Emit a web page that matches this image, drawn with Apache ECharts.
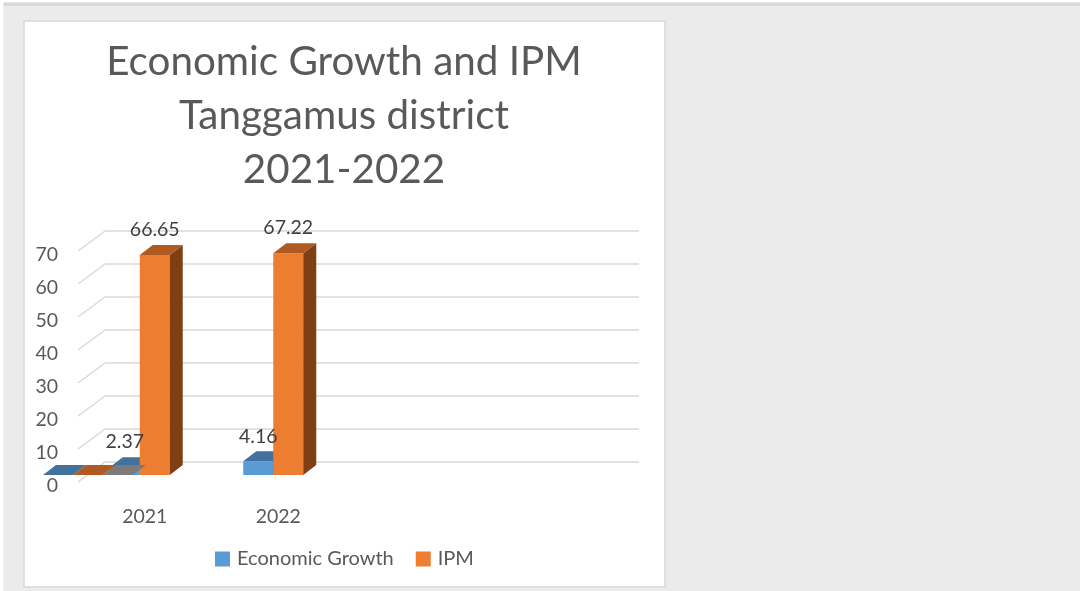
<!DOCTYPE html>
<html>
<head>
<meta charset="utf-8">
<style>html,body{margin:0;padding:0;background:#fff}#chart{width:1080px;height:591px}</style>
<script src="https://cdn.jsdelivr.net/npm/echarts@6/dist/echarts.min.js"></script>
</head>
<body>
<div id="chart"></div>
<script>
// Chart values
const categories = ['2021', '2022', '', ''];
const economicGrowth = [2.37, 4.16];
const ipm = [66.65, 67.22];
// Zero-height entries that sit in a leading slot before 2021
const leadingGrowth = [0];
const leadingIpm = [0];
const leadingThird = [0];
const valueTicks = [0, 10, 20, 30, 40, 50, 60, 70];

const FONT = 'Lato, "Open Sans", sans-serif';
const BAR_W = 30, DEPTH_X = 13, DEPTH_Y = 10;
const BLUE = { front: '#5b9bd5', top: '#41719c', side: '#2f5d87' };
const ORANGE = { front: '#ed7d31', top: '#ae5a21', side: '#7f3f13' };
const GRAY = { front: '#a5a5a5', top: '#7b7b7b', side: '#636363' };

const poly = (points, fill) => ({ type: 'polygon', shape: { points }, style: { fill }, silent: true });

// One extruded box: x is the left edge of the front face, top and base are pixel rows
function box(x, top, base, colors) {
  const r = x + BAR_W, d = DEPTH_X, h = DEPTH_Y;
  const parts = [];
  if (base - top > 0.01) {
    parts.push(poly([[x, top], [r, top], [r, base], [x, base]], colors.front));
    parts.push(poly([[r, top], [r + d, top - h], [r + d, base - h], [r, base]], colors.side));
  }
  parts.push(poly([[x, top], [r, top], [r + d, top - h], [x + d, top - h]], colors.top));
  return parts;
}

// Regular bars: slot -1 sits left of the category centre, slot 0 right of it
function barRenderer(slot, colors) {
  return (params, api) => {
    const c = api.coord([api.value(0), api.value(1)]);
    const base = api.coord([api.value(0), 0])[1];
    return { type: 'group', children: box(c[0] + slot * BAR_W, c[1], base, colors) };
  };
}

// Value captions float above the bars and stay readable where they overlap a neighbour
function labelRenderer(slot) {
  return (params, api) => {
    const c = api.coord([api.value(0), api.value(1)]);
    return {
      type: 'text',
      silent: true,
      style: {
        x: c[0] + slot * BAR_W + BAR_W / 2, y: c[1] - 25, text: api.value(1).toFixed(2),
        fill: '#404040', font: '19.5px ' + FONT, align: 'center', verticalAlign: 'middle'
      }
    };
  };
}

// Zero-value slabs are placed relative to the left boundary of the first band
function slabRenderer(slot, colors) {
  return (params, api) => {
    const c = api.coord([0, api.value(1)]);
    const band = api.size([1, 0])[0];
    const x = c[0] - band / 2 + slot * BAR_W;
    return { type: 'group', children: box(x, c[1], c[1], colors) };
  };
}

// Short diagonal lines linking the back wall to the front edge of the side wall
function wallRenderer(params, api) {
  const left = params.coordSys.x;
  const y = api.coord([0, api.value(0)])[1];
  return {
    type: 'line',
    shape: { x1: left, y1: y, x2: left - 27, y2: y + 20 },
    style: { stroke: '#d9d9d9', lineWidth: 1.5 },
    silent: true
  };
}

const customBase = { type: 'custom', xAxisIndex: 2, yAxisIndex: 2, clip: false, silent: true };
const pairs = values => values.map((v, i) => [i, v]);

const option = {
  animation: false,
  backgroundColor: '#ebebeb',
  graphic: [
    { type: 'rect', shape: { x: 0, y: 0, width: 1080, height: 2.5 }, style: { fill: '#ffffff' }, z: -10 },
    { type: 'rect', shape: { x: 0, y: 0, width: 3.5, height: 591 }, style: { fill: '#ffffff' }, z: -10 },
    { type: 'rect', shape: { x: 3.5, y: 2.5, width: 1076.5, height: 3.5 }, style: { fill: '#d9d9d9' }, z: -10 },
    { type: 'rect', shape: { x: 24, y: 21, width: 641, height: 566 },
      style: { fill: '#ffffff', stroke: '#d9d9d9', lineWidth: 1.5 }, z: -10 }
  ],
  title: {
    text: 'Economic Growth and IPM\nTanggamus district\n2021-2022',
    left: 339, top: 30, textAlign: 'center',
    textStyle: { fontFamily: FONT, fontSize: 40.4, fontWeight: 'normal', color: '#595959', lineHeight: 54 }
  },
  legend: {
    data: ['Economic Growth', 'IPM'],
    left: 210, top: 544, itemWidth: 15, itemHeight: 15, itemGap: 22,
    icon: 'rect', selectedMode: false,
    textStyle: { fontFamily: FONT, fontSize: 20, color: '#595959', padding: [0, 0, 0, 2] }
  },
  grid: [
    { left: 105, top: 231, width: 534, height: 231 },
    { left: 78, top: 255, width: 534, height: 231 },
    { left: 73, top: 244, width: 534, height: 231 }
  ],
  xAxis: [
    { gridIndex: 0, type: 'category', data: categories, show: false },
    { gridIndex: 1, type: 'category', data: categories,
      axisLine: { show: false }, axisTick: { show: false },
      axisLabel: { margin: 21, fontFamily: FONT, fontSize: 19.5, color: '#595959', interval: 0 } },
    { gridIndex: 2, type: 'category', data: categories, show: false }
  ],
  yAxis: [
    { gridIndex: 0, type: 'value', min: 0, max: 70, interval: 10,
      axisLine: { show: false }, axisTick: { show: false }, axisLabel: { show: false },
      splitLine: { lineStyle: { color: '#d9d9d9', width: 1.5 } } },
    { gridIndex: 1, type: 'value', min: 0, max: 70, interval: 10,
      axisLine: { show: false }, axisTick: { show: false }, splitLine: { show: false },
      axisLabel: { margin: 20, fontFamily: FONT, fontSize: 19.5, color: '#595959' } },
    { gridIndex: 2, type: 'value', min: 0, max: 70, interval: 10, show: false }
  ],
  series: [
    { type: 'custom', xAxisIndex: 0, yAxisIndex: 0, clip: false, silent: true, name: 'wall',
      data: valueTicks.map(v => [v]), encode: { y: 0 }, renderItem: wallRenderer },
    { ...customBase, name: 'Economic Growth', itemStyle: { color: BLUE.front }, z: 3,
      data: pairs(economicGrowth), encode: { x: 0, y: 1 }, renderItem: barRenderer(-1, BLUE) },
    { ...customBase, name: 'leading growth', z: 4,
      data: pairs(leadingGrowth), encode: { x: 0, y: 1 }, renderItem: slabRenderer(-1, BLUE) },
    { ...customBase, name: 'leading ipm', z: 4,
      data: pairs(leadingIpm), encode: { x: 0, y: 1 }, renderItem: slabRenderer(0, ORANGE) },
    { ...customBase, name: 'IPM', itemStyle: { color: ORANGE.front }, z: 5,
      data: pairs(ipm), encode: { x: 0, y: 1 }, renderItem: barRenderer(0, ORANGE) },
    { ...customBase, name: 'leading third', z: 6,
      data: pairs(leadingThird), encode: { x: 0, y: 1 }, renderItem: slabRenderer(1, GRAY) },
    { ...customBase, name: 'growth values', z: 7,
      data: pairs(economicGrowth), encode: { x: 0, y: 1 }, renderItem: labelRenderer(-1) },
    { ...customBase, name: 'ipm values', z: 7,
      data: pairs(ipm), encode: { x: 0, y: 1 }, renderItem: labelRenderer(0) }
  ]
};

echarts.init(document.getElementById('chart'), null, { renderer: 'canvas' }).setOption(option);
</script>
</body>
</html>
